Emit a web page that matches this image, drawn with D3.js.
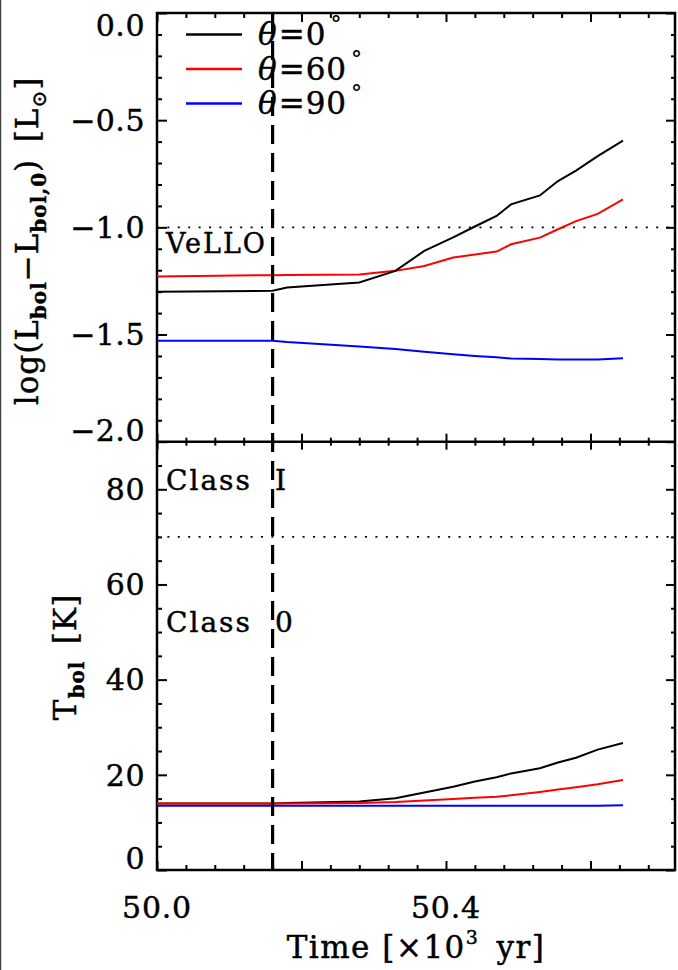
<!DOCTYPE html>
<html>
<head>
<meta charset="utf-8">
<title>Lbol and Tbol evolution</title>
<script src="https://d3js.org/d3.v7.min.js"></script>
<style>
  body { margin: 0; background: #fff; }
  svg text { font-family: "DejaVu Serif", "Liberation Serif", serif; fill: #000; stroke: #000; stroke-width: 0.45px; }
</style>
</head>
<body>
<div id="chart"></div>
<script>
// time grid [x10^3 yr]
const time = [50.0, 50.16, 50.18, 50.28, 50.33, 50.37, 50.41, 50.44, 50.47, 50.49, 50.53, 50.555, 50.58, 50.61, 50.645];

// log(Lbol - Lbol,0) [Lsun]
const lum0  = [-1.301, -1.296, -1.281, -1.257, -1.203, -1.110, -1.047, -0.996, -0.947, -0.893, -0.851, -0.784, -0.735, -0.668, -0.595];
const lum60 = [-1.229, -1.223, -1.222, -1.220, -1.203, -1.180, -1.141, -1.127, -1.113, -1.079, -1.048, -1.009, -0.971, -0.937, -0.870];
const lum90 = [-1.529, -1.529, -1.535, -1.556, -1.568, -1.580, -1.592, -1.600, -1.606, -1.612, -1.614, -1.616, -1.617, -1.616, -1.611];

// Tbol [K]
const tb0  = [14.0, 14.0, 14.1, 14.4, 15.1, 16.3, 17.5, 18.6, 19.5, 20.3, 21.4, 22.6, 23.6, 25.3, 26.7];
const tb60 = [14.0, 14.0, 14.0, 14.1, 14.3, 14.6, 14.9, 15.2, 15.4, 15.7, 16.4, 16.9, 17.4, 18.0, 18.9];
const tb90 = [13.5, 13.5, 13.5, 13.5, 13.5, 13.5, 13.5, 13.5, 13.5, 13.5, 13.5, 13.5, 13.5, 13.5, 13.6];

const angles = ["0", "60", "90"];
const colors = ["#000000", "#ff0000", "#0000ff"];

const xMajor = [50.0, 50.2, 50.4, 50.6];
const xLabels = {"50.0": "50.0", "50.4": "50.4"};
const lumMajor = [0.0, -0.5, -1.0, -1.5, -2.0];
const tbMajor = [0, 20, 40, 60, 80];

const tVello = 50.16;     // dashed vertical line
const lumVello = -1.0;    // VeLLO limit
const tbClass = 70;       // Class 0 / I boundary

const width = 678, height = 970;
const pLeft = 157, pRight = 675, pTop = 13, pMid = 441.7, pBottom = 870;

const svg = d3.select('#chart').append('svg')
  .attr('width', width).attr('height', height);

const x = d3.scaleLinear().domain([50.0, 50.717]).range([pLeft, pRight]);
const yL = d3.scaleLinear().domain([-2.0, 0.0]).range([pMid, pTop]);
const yT = d3.scaleLinear().domain([0, 90]).range([pBottom, pMid]);

const xMinor = d3.range(0, 18).map(i => 50 + i * 0.04).filter(v => xMajor.every(m => Math.abs(m - v) > 1e-6));
const lumMinor = d3.range(1, 20).map(i => -i * 0.1).filter(v => Math.abs(v * 2 - Math.round(v * 2)) > 1e-6);
const tbMinor = d3.range(1, 18).map(i => i * 5).filter(v => v % 20 != 0);

// thin edge at far left of the picture
svg.append('line').attr('x1', 0.5).attr('x2', 0.5).attr('y1', 0).attr('y2', height)
  .attr('stroke', '#444').attr('stroke-width', 1.5);

// ticks, drawn with d3 axes (domain path removed)
function ticks(axis, tr, vals, size) {
  const g = svg.append('g').attr('transform', tr)
    .call(axis.tickValues(vals).tickSize(size).tickFormat(''));
  g.select('.domain').remove();
  g.selectAll('.tick line').attr('stroke', '#000').attr('stroke-width', 2);
}
// x ticks: top edge, middle (both ways), bottom edge
ticks(d3.axisBottom(x), `translate(0,${pTop})`, xMajor, 9);
ticks(d3.axisBottom(x), `translate(0,${pTop})`, xMinor, 5);
ticks(d3.axisBottom(x), `translate(0,${pMid})`, xMajor, 8);
ticks(d3.axisBottom(x), `translate(0,${pMid})`, xMinor, 4);
ticks(d3.axisTop(x), `translate(0,${pMid})`, xMajor, 8);
ticks(d3.axisTop(x), `translate(0,${pMid})`, xMinor, 4);
ticks(d3.axisTop(x), `translate(0,${pBottom})`, xMajor, 9);
ticks(d3.axisTop(x), `translate(0,${pBottom})`, xMinor, 5);
// y ticks, left and right
[[yL, lumMajor, lumMinor], [yT, tbMajor, tbMinor]].forEach(([s, maj, min]) => {
  ticks(d3.axisRight(s), `translate(${pLeft},0)`, maj, 10);
  ticks(d3.axisRight(s), `translate(${pLeft},0)`, min, 5);
  ticks(d3.axisLeft(s), `translate(${pRight},0)`, maj, 9);
  ticks(d3.axisLeft(s), `translate(${pRight},0)`, min, 4);
});

// frame
svg.append('rect').attr('x', pLeft).attr('y', pTop)
  .attr('width', pRight - pLeft).attr('height', pBottom - pTop)
  .attr('fill', 'none').attr('stroke', '#000').attr('stroke-width', 2.5);
svg.append('line').attr('x1', pLeft).attr('x2', pRight).attr('y1', pMid).attr('y2', pMid)
  .attr('stroke', '#000').attr('stroke-width', 2.5);

// tick labels
const fmt = d => d.toFixed(1).replace('-', '\u2212');
svg.append('g').selectAll('text').data(lumMajor).join('text')
  .attr('x', 145).attr('y', d => yL(d) + (d == 0 ? 12 : d == -2 ? -12 : 0))
  .attr('dy', '0.36em').attr('text-anchor', 'end').attr('font-size', 30).attr('letter-spacing', 0.5)
  .text(fmt);
svg.append('g').selectAll('text').data(tbMajor).join('text')
  .attr('x', 145).attr('y', d => yT(d) + (d == 0 ? -12 : 0))
  .attr('dy', '0.36em').attr('text-anchor', 'end').attr('font-size', 30).attr('letter-spacing', 0.5)
  .text(d => d);
svg.append('g').selectAll('text').data(xMajor.filter(d => xLabels[d.toFixed(1)])).join('text')
  .attr('x', d => x(d)).attr('y', 918).attr('text-anchor', 'middle').attr('font-size', 30).attr('letter-spacing', 0.8)
  .text(d => xLabels[d.toFixed(1)]);

// reference lines
svg.append('line').attr('x1', pLeft).attr('x2', pRight).attr('y1', yL(lumVello)).attr('y2', yL(lumVello))
  .attr('stroke', '#000').attr('stroke-width', 1.8).attr('stroke-dasharray', '2,8.4');
svg.append('line').attr('x1', pLeft).attr('x2', pRight).attr('y1', yT(tbClass)).attr('y2', yT(tbClass))
  .attr('stroke', '#000').attr('stroke-width', 1.8).attr('stroke-dasharray', '2,8.4');

// data lines
const lumSeries = [lum0, lum60, lum90];
const tbSeries = [tb0, tb60, tb90];
const lineL = d3.line().x((d, i) => x(time[i])).y(d => yL(d));
const lineT = d3.line().x((d, i) => x(time[i])).y(d => yT(d));
[2, 1, 0].forEach(k => {
  svg.append('path').attr('d', lineL(lumSeries[k])).attr('fill', 'none')
    .attr('stroke', colors[k]).attr('stroke-width', 2);
});
[2, 0, 1].forEach(k => {
  svg.append('path').attr('d', lineT(tbSeries[k])).attr('fill', 'none')
    .attr('stroke', colors[k]).attr('stroke-width', 2);
});

// annotations
svg.append('text').attr('x', 166).attr('y', 253).attr('font-size', 27).attr('letter-spacing', 2).text('VeLLO');
[['I', 490], ['0', 632]].forEach(([c, yy]) => {
  const t = svg.append('text').attr('y', yy).attr('font-size', 28).attr('letter-spacing', 2);
  t.append('tspan').attr('x', 166).text('Class');
  t.append('tspan').attr('x', 275).text(c);
});

// dashed vertical line
svg.append('line').attr('x1', x(tVello)).attr('x2', x(tVello)).attr('y1', pTop).attr('y2', pBottom)
  .attr('stroke', '#000').attr('stroke-width', 3.2).attr('stroke-dasharray', '19,9');

// legend
const leg = svg.append('g');
angles.forEach((a, i) => {
  const yy = 34.5 + i * 34.5;
  leg.append('line').attr('x1', 186).attr('x2', 242).attr('y1', yy).attr('y2', yy)
    .attr('stroke', colors[i]).attr('stroke-width', 2.4);
  const t = leg.append('text').attr('x', 258).attr('y', yy + 10.5).attr('font-size', 31).attr('letter-spacing', 1);
  t.append('tspan').attr('font-style', 'italic').text('\u03b8');
  t.append('tspan').attr('dx', 1).text('=' + a);
  t.append('tspan').attr('dx', 4).attr('dy', -13).attr('font-size', 22).attr('stroke-width', 0.2).text('\u00b0');
});

// axis titles
const yl1 = svg.append('text').attr('transform', 'translate(38,241) rotate(-90)')
  .attr('text-anchor', 'middle').attr('font-size', 31).attr('letter-spacing', 1);
yl1.append('tspan').text('log(L');
yl1.append('tspan').attr('font-size', 20).attr('font-weight', 'bold').attr('dy', 8).text('bol');
yl1.append('tspan').attr('dy', -8).text('\u2212L');
yl1.append('tspan').attr('font-size', 20).attr('font-weight', 'bold').attr('dy', 8).text('bol,0');
yl1.append('tspan').attr('dy', -8).text(')\u2002[L');
yl1.append('tspan').attr('font-size', 20).attr('dy', 8).text('\u2299');
yl1.append('tspan').attr('dy', -8).text(']');

const yl2 = svg.append('text').attr('transform', 'translate(76,657) rotate(-90)')
  .attr('text-anchor', 'middle').attr('font-size', 31).attr('letter-spacing', 1);
yl2.append('tspan').text('T');
yl2.append('tspan').attr('font-size', 20).attr('font-weight', 'bold').attr('dy', 8).text('bol');
yl2.append('tspan').attr('dy', -8).text('\u2002[K]');

const xl = svg.append('text').attr('x', 416).attr('y', 958)
  .attr('text-anchor', 'middle').attr('font-size', 31).attr('letter-spacing', 1.5);
xl.append('tspan').text('Time [\u00d710');
xl.append('tspan').attr('font-size', 19).attr('dy', -14).text('3');
xl.append('tspan').attr('dy', 14).text('\u2002yr]');
</script>
</body>
</html>
